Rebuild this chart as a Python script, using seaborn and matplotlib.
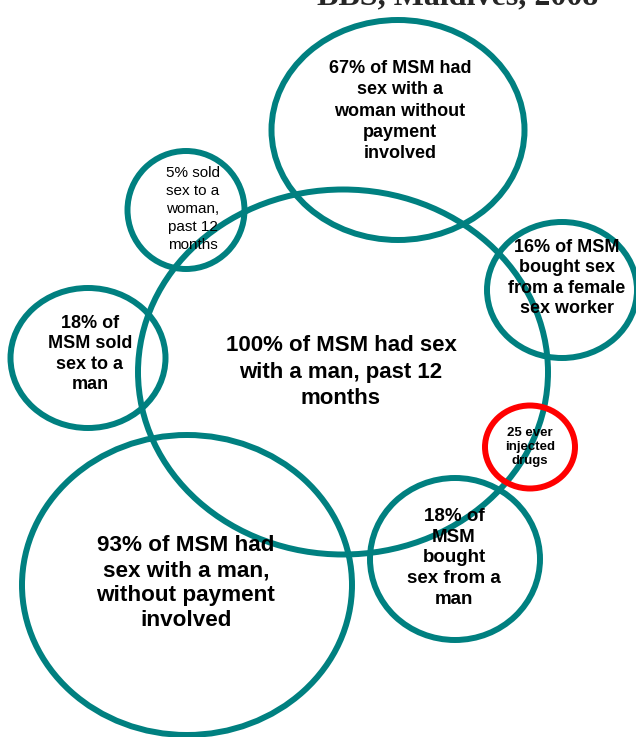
import numpy as np
import pandas as pd
import matplotlib
matplotlib.use("Agg")
import matplotlib.pyplot as plt
import seaborn as sns
from matplotlib.patches import Ellipse

# Bubble data (picture pixel space: x to the right, y downward)
labels = [
    "100% of MSM had sex\nwith a man, past 12\nmonths",
    "67% of MSM had\nsex with a\nwoman without\npayment\ninvolved",
    "5% sold\nsex to a\nwoman,\npast 12\nmonths",
    "18% of\nMSM sold\nsex to a\nman",
    "16% of MSM\nbought sex\nfrom a female\nsex worker",
    "18% of\nMSM\nbought\nsex from a\nman",
    "93% of MSM had\nsex with a man,\nwithout payment\ninvolved",
    "25 ever\ninjected\ndrugs",
]
cx = [343, 398, 186, 88, 562, 455, 187, 530]
cy = [372, 130, 210, 358, 290, 559, 585, 447]
widths = [410, 253, 117, 155, 150, 170, 330, 90]
heights = [365, 220, 118, 140, 136, 162, 300, 83]
groups = ["msm", "msm", "msm", "msm", "msm", "msm", "msm", "idu"]

df = pd.DataFrame({"label": labels, "x": cx, "y": cy, "w": widths,
                   "h": heights, "group": groups})

# text placement / style per bubble
text_x = [341, 400, 193, 90, 567, 454, 186, 530]
text_y = [372, 111, 209, 354, 278, 558, 583, 447]
text_size = [16, 13, 11, 13, 13, 13.5, 16.2, 9.5]
text_weight = ["bold"] * 8
text_weight[2] = "normal"
line_gap = [1.32, 1.32, 1.38, 1.28, 1.26, 1.28, 1.25, 1.26]

sns.set_theme(style="white")
plt.rcParams["font.family"] = ["Liberation Sans", "DejaVu Sans"]

palette = {"msm": "#008080", "idu": "#ff0000"}

fig = plt.figure(figsize=(6.36, 7.37), dpi=100)
ax = fig.add_axes([0, 0, 1, 1])
ax.set_xlim(0, 636)
ax.set_ylim(737, 0)
ax.set_axis_off()

order = [2, 1, 0, 3, 4, 5, 6, 7]
for i in order:
    r = df.iloc[i]
    ax.add_patch(Ellipse((r["x"], r["y"]), r["w"], r["h"], fill=False,
                         edgecolor=palette[r["group"]], lw=4.3, zorder=2))

for i, r in df.iterrows():
    ax.text(text_x[i], text_y[i], r["label"], ha="center", va="center",
            fontsize=text_size[i], fontweight=text_weight[i],
            linespacing=line_gap[i], color="black", zorder=3)

# title sits partly above the top edge, as in the source slide
ax.text(458, 4, "BBS, Maldives, 2008", ha="center", va="baseline",
        fontsize=23, fontweight="bold", family=["Liberation Serif"],
        clip_on=False)

fig.savefig("out.png", dpi=100)
